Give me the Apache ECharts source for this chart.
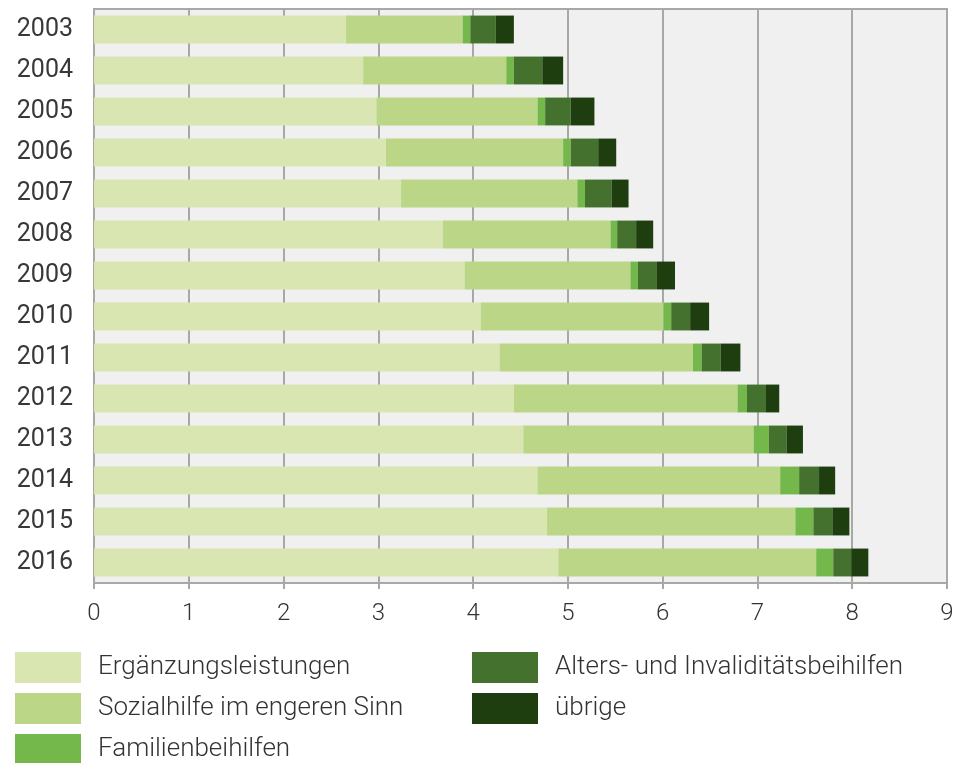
<!DOCTYPE html>
<html>
<head>
<meta charset="utf-8">
<script src="https://cdn.jsdelivr.net/npm/echarts@6/dist/echarts.min.js"></script>
<style>
html,body{margin:0;padding:0;background:#fff;}
#c{width:958px;height:763px;}
</style>
</head>
<body>
<div id="c"></div>
<script>
const years = ['2003','2004','2005','2006','2007','2008','2009','2010','2011','2012','2013','2014','2015','2016'];
const ergaenzung = [2.66,2.84,2.98,3.08,3.24,3.68,3.91,4.08,4.28,4.43,4.53,4.68,4.78,4.90];
const sozialhilfe = [1.23,1.51,1.70,1.87,1.86,1.77,1.75,1.93,2.04,2.36,2.43,2.56,2.62,2.72];
const familien = [0.08,0.08,0.08,0.08,0.08,0.07,0.08,0.08,0.09,0.10,0.16,0.20,0.19,0.18];
const alters = [0.27,0.30,0.27,0.29,0.28,0.20,0.20,0.20,0.20,0.20,0.19,0.21,0.20,0.19];
const uebrige = [0.19,0.22,0.25,0.19,0.18,0.18,0.19,0.20,0.21,0.14,0.17,0.17,0.18,0.18];
const xTicks = [0,1,2,3,4,5,6,7,8,9];

const names = ['Ergänzungsleistungen','Sozialhilfe im engeren Sinn','Familienbeihilfen','Alters- und Invaliditätsbeihilfen','übrige'];
const colors = ['#dae6b2','#bad686','#74b84c','#44722e','#1f3e10'];
const datas = [ergaenzung, sozialhilfe, familien, alters, uebrige];

const chart = echarts.init(document.getElementById('c'));
const legendText = {fontFamily:'Roboto', fontWeight:300, fontSize:26, color:'#333', padding:[0,0,0,12]};
chart.setOption({
  animation:false,
  backgroundColor:'#fff',
  textStyle:{fontFamily:'Roboto'},
  grid:{left:94, right:11, top:9, bottom:180, show:true, backgroundColor:'#f0f0f0', borderColor:'#a8a8a8', borderWidth:2},
  xAxis:{
    type:'value', min:xTicks[0], max:xTicks[xTicks.length-1], interval:1,
    axisLine:{show:true, lineStyle:{color:'#a8a8a8', width:2}},
    axisTick:{show:true, length:6, lineStyle:{color:'#a8a8a8', width:2}},
    axisLabel:{fontFamily:'Roboto', fontWeight:300, fontSize:24, color:'#333', margin:19},
    splitLine:{show:true, lineStyle:{color:'#a8a8a8', width:2}}
  },
  yAxis:{
    type:'category', data:years, inverse:true,
    axisLine:{show:true, lineStyle:{color:'#a8a8a8', width:2}},
    axisTick:{show:false},
    axisLabel:{fontFamily:'Roboto', fontSize:25, color:'#383838', margin:21}
  },
  legend:[
    {data:names.slice(0,3), orient:'vertical', left:15, top:652, height:120, padding:0, itemWidth:66, itemHeight:31, itemGap:10, textStyle:legendText, icon:'rect', selectedMode:false},
    {data:names.slice(3), orient:'vertical', left:472, top:652, height:120, padding:0, itemWidth:66, itemHeight:31, itemGap:10, textStyle:legendText, icon:'rect', selectedMode:false}
  ],
  series: names.map((n,i)=>({
    name:n, type:'bar', stack:'total', data:datas[i], barCategoryGap:'32%',
    itemStyle:{color:colors[i]}
  }))
});
</script>
</body>
</html>
